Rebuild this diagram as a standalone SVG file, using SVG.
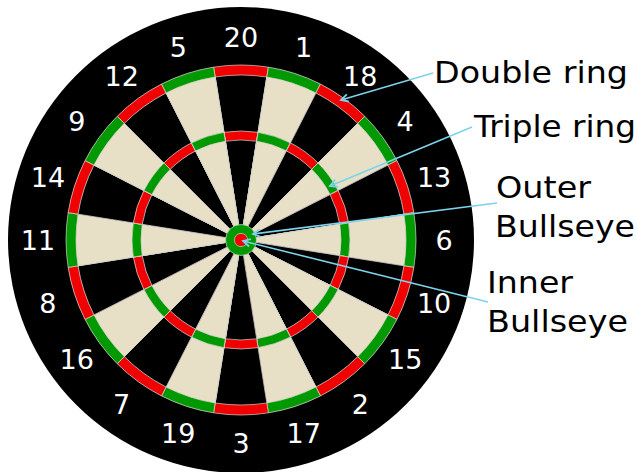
<svg xmlns="http://www.w3.org/2000/svg" xmlns:xlink="http://www.w3.org/1999/xlink" width="637" height="472" viewBox="0 0 637 472">
<style>
.w{stroke:#d6d6d0;stroke-width:0.7}
.blk{fill:#000}
.crm{fill:#e7e0c6}
.red{fill:#f00000}
.grn{fill:#009a00}
.num{font-family:"DejaVu Sans",sans-serif;font-size:27px;fill:#fff;text-anchor:middle}
.lbl{font-family:"DejaVu Sans",sans-serif;font-size:31px;fill:#000}
.lead{stroke:#7dd3ec;stroke-width:1.6;fill:none;marker-end:url(#ah)}
</style>
<defs>
<marker id="ah" markerUnits="userSpaceOnUse" markerWidth="12" markerHeight="12" viewBox="-8 -5 10 10" refX="0" refY="0" orient="auto">
<path d="M-6,-3.2 L0,0 L-6,3.2" fill="none" stroke="#7dd3ec" stroke-width="1.5"/>
</marker>
<path id="w175" d="M0,0 L-27.376,-172.845 A175,175 0 0 1 27.376,-172.845 Z"/>
<path id="w165" d="M0,0 L-25.812,-162.969 A165,165 0 0 1 25.812,-162.969 Z"/>
<path id="w109" d="M0,0 L-17.051,-107.658 A109,109 0 0 1 17.051,-107.658 Z"/>
<path id="w100" d="M0,0 L-15.643,-98.769 A100,100 0 0 1 15.643,-98.769 Z"/>
<g id="segA">
<use xlink:href="#w175" class="red w"/>
<use xlink:href="#w165" class="blk w"/>
<use xlink:href="#w109" class="red w"/>
<use xlink:href="#w100" class="blk w"/>
</g>
<g id="segB">
<use xlink:href="#w175" class="grn w"/>
<use xlink:href="#w165" class="crm w"/>
<use xlink:href="#w109" class="grn w"/>
<use xlink:href="#w100" class="crm w"/>
</g>
</defs>
<rect width="637" height="472" fill="#fff"/>
<g id="board">
<circle cx="241" cy="240" r="233" fill="#000"/>
<g id="segments" transform="translate(241,240)">
<use xlink:href="#segA" transform="rotate(0)"/>
<use xlink:href="#segB" transform="rotate(18)"/>
<use xlink:href="#segA" transform="rotate(36)"/>
<use xlink:href="#segB" transform="rotate(54)"/>
<use xlink:href="#segA" transform="rotate(72)"/>
<use xlink:href="#segB" transform="rotate(90)"/>
<use xlink:href="#segA" transform="rotate(108)"/>
<use xlink:href="#segB" transform="rotate(126)"/>
<use xlink:href="#segA" transform="rotate(144)"/>
<use xlink:href="#segB" transform="rotate(162)"/>
<use xlink:href="#segA" transform="rotate(180)"/>
<use xlink:href="#segB" transform="rotate(198)"/>
<use xlink:href="#segA" transform="rotate(216)"/>
<use xlink:href="#segB" transform="rotate(234)"/>
<use xlink:href="#segA" transform="rotate(252)"/>
<use xlink:href="#segB" transform="rotate(270)"/>
<use xlink:href="#segA" transform="rotate(288)"/>
<use xlink:href="#segB" transform="rotate(306)"/>
<use xlink:href="#segA" transform="rotate(324)"/>
<use xlink:href="#segB" transform="rotate(342)"/>
</g>
<circle id="outer-bull" cx="241" cy="240" r="15.5" class="grn w"/>
<circle id="inner-bull" cx="241" cy="240" r="6.6" class="red w"/>
</g>
<g id="numbers">
<text class="num" x="241.0" y="46.8">20</text>
<text class="num" x="303.7" y="56.9">1</text>
<text class="num" x="360.3" y="85.6">18</text>
<text class="num" x="405.2" y="130.5">4</text>
<text class="num" x="434.1" y="187.1">13</text>
<text class="num" x="444.0" y="249.8">6</text>
<text class="num" x="434.1" y="312.5">10</text>
<text class="num" x="405.2" y="369.1">15</text>
<text class="num" x="360.3" y="414.0">2</text>
<text class="num" x="303.7" y="442.7">17</text>
<text class="num" x="241.0" y="452.8">3</text>
<text class="num" x="178.3" y="442.7">19</text>
<text class="num" x="121.7" y="414.0">7</text>
<text class="num" x="76.8" y="369.1">16</text>
<text class="num" x="47.9" y="312.5">8</text>
<text class="num" x="38.0" y="249.8">11</text>
<text class="num" x="47.9" y="187.1">14</text>
<text class="num" x="76.8" y="130.5">9</text>
<text class="num" x="121.7" y="85.6">12</text>
<text class="num" x="178.3" y="56.9">5</text>
</g>
<g id="connectors">
<line class="lead" x1="433" y1="73" x2="341" y2="100"/>
<line class="lead" x1="472" y1="127" x2="330" y2="186"/>
<line class="lead" x1="497" y1="203" x2="253" y2="234"/>
<line class="lead" x1="488" y1="302" x2="243" y2="241"/>
</g>
<g id="label-double"><text class="lbl" x="434" y="83" textLength="194" lengthAdjust="spacingAndGlyphs">Double ring</text></g>
<g id="label-triple"><text class="lbl" x="474" y="137" textLength="162" lengthAdjust="spacingAndGlyphs">Triple ring</text></g>
<g id="label-outer"><text class="lbl" x="496" y="198" textLength="95" lengthAdjust="spacingAndGlyphs">Outer</text><text class="lbl" x="495" y="237" textLength="140" lengthAdjust="spacingAndGlyphs">Bullseye</text></g>
<g id="label-inner"><text class="lbl" x="487" y="293" textLength="86" lengthAdjust="spacingAndGlyphs">Inner</text><text class="lbl" x="487" y="332" textLength="141" lengthAdjust="spacingAndGlyphs">Bullseye</text></g>
</svg>
